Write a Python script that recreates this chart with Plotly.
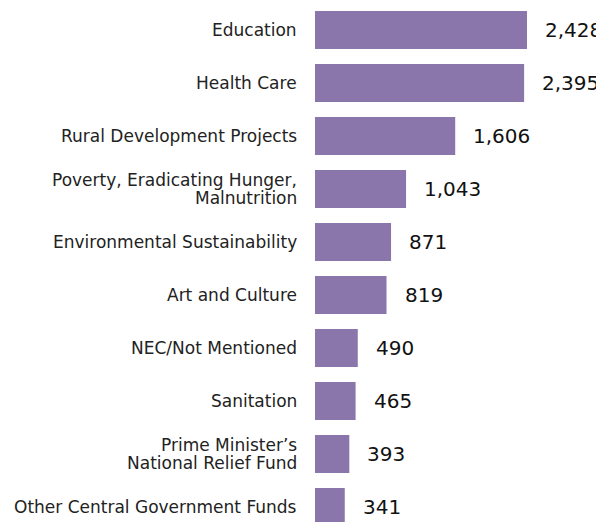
import plotly.graph_objects as go

categories = [
    "Education",
    "Health Care",
    "Rural Development Projects",
    "Poverty, Eradicating Hunger,<br>Malnutrition",
    "Environmental Sustainability",
    "Art and Culture",
    "NEC/Not Mentioned",
    "Sanitation",
    "Prime Minister’s<br>National Relief Fund",
    "Other Central Government Funds",
]
values = [2428, 2395, 1606, 1043, 871, 819, 490, 465, 393, 341]
value_labels = ["2,428", "2,395", "1,606", "1,043", "871", "819", "490", "465", "393", "341"]

BAR_COLOR = "#8b76ac"
LABEL_FONT = dict(family="DejaVu Sans, sans-serif", size=17, color="#222222")
VALUE_FONT = dict(family="DejaVu Sans, sans-serif", size=20, color="#111111")

fig = go.Figure()
fig.add_trace(go.Bar(
    x=values,
    y=categories,
    orientation="h",
    marker=dict(color=BAR_COLOR, line=dict(width=0)),
    hoverinfo="skip",
))

for c, v, lab in zip(categories, values, value_labels):
    fig.add_annotation(
        x=v, y=c, text=lab, showarrow=False,
        xanchor="left", yanchor="middle", xshift=16,
        font=VALUE_FONT,
    )
    lines = c.split("<br>")
    n = len(lines)
    for i, line in enumerate(lines):
        fig.add_annotation(
            x=0, y=c, xref="paper", yref="y", text=line, showarrow=False,
            xanchor="right", yanchor="middle", xshift=-16,
            yshift=(n - 1) * 9 - i * 18,
            font=LABEL_FONT,
        )

# page body has an 8px margin, so the figure is sized 8px smaller
fig.update_layout(
    width=596, height=514,
    margin=dict(l=307, r=0, t=0, b=0, pad=0),
    paper_bgcolor="white", plot_bgcolor="white",
    bargap=0.28,
    showlegend=False,
    xaxis=dict(range=[0, 3310], visible=False, fixedrange=True),
    yaxis=dict(
        type="category",
        range=[9.283, -0.415],
        showgrid=False, zeroline=False, showline=False,
        showticklabels=False, ticks="",
        fixedrange=True,
    ),
)

fig.write_html("out.html")
